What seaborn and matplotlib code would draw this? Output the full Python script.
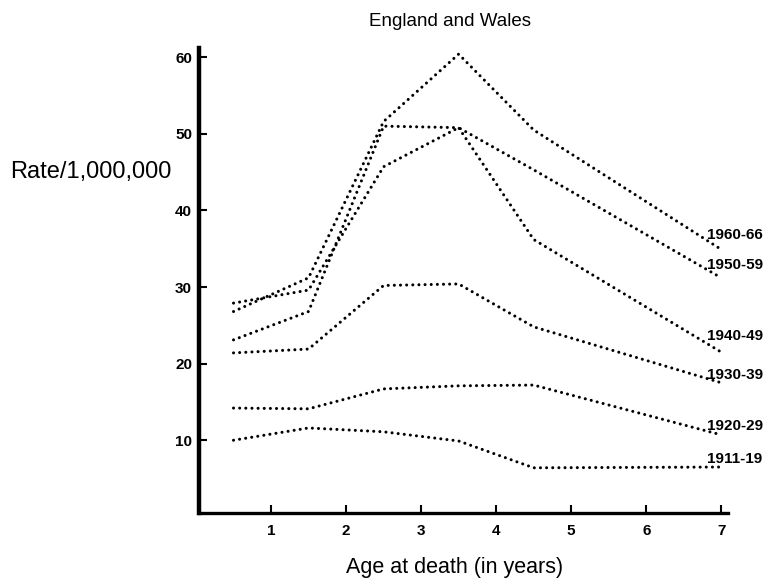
import matplotlib
matplotlib.use("Agg")
import matplotlib.pyplot as plt
import seaborn as sns
import pandas as pd

# Age at death (mid-points of the age groups, in years)
ages = [0.5, 1.5, 2.5, 3.5, 4.5, 7.0]

# Death rate per 1,000,000 for each period
periods = ["1911-19", "1920-29", "1930-39", "1940-49", "1950-59", "1960-66"]
rate_1911_19 = [10.0, 11.6, 11.1, 9.9, 6.4, 6.5]
rate_1920_29 = [14.2, 14.1, 16.7, 17.1, 17.2, 10.7]
rate_1930_39 = [21.4, 21.9, 30.2, 30.4, 24.8, 17.5]
rate_1940_49 = [23.1, 26.8, 51.0, 50.8, 36.2, 21.5]
rate_1950_59 = [27.9, 29.6, 45.7, 50.8, 45.3, 31.2]
rate_1960_66 = [26.8, 31.2, 51.6, 60.4, 50.5, 34.9]

# Label anchor heights at the right-hand end of each line
label_y = [7.5, 11.8, 18.5, 23.6, 32.9, 36.8]

x_ticks = [1, 2, 3, 4, 5, 6, 7]
y_ticks = [10, 20, 30, 40, 50, 60]

series = [rate_1911_19, rate_1920_29, rate_1930_39,
          rate_1940_49, rate_1950_59, rate_1960_66]
df = pd.DataFrame(
    [(a, r, p) for p, vals in zip(periods, series) for a, r in zip(ages, vals)],
    columns=["age", "rate", "period"],
)

sns.set_theme(style="ticks")
plt.rcParams["font.family"] = ["Liberation Sans", "DejaVu Sans"]
plt.rcParams["text.color"] = "black"
plt.rcParams["xtick.color"] = "black"
plt.rcParams["ytick.color"] = "black"

fig = plt.figure(figsize=(7.7, 5.87), dpi=100)
ax = fig.add_axes([199 / 770, 1 - 513 / 587, (728 - 199) / 770, (513 - 48) / 587])

sns.lineplot(
    data=df, x="age", y="rate", hue="period", style="period",
    palette={p: "black" for p in periods},
    dashes={p: (0.01, 2.0) for p in periods},
    linewidth=2.2, dash_capstyle="round", legend=False, ax=ax,
)
for line in ax.get_lines():
    line.set_dash_capstyle("round")

ax.set_xlim(0.04, 7.09)
ax.set_ylim(0.5, 61.2)
ax.set_xticks(x_ticks)
ax.set_yticks(y_ticks)
ax.set_xticklabels([str(t) for t in x_ticks], fontweight="bold", fontsize=11)
ax.set_yticklabels([str(t) for t in y_ticks], fontweight="bold", fontsize=11)
ax.tick_params(axis="both", direction="in", length=6, width=1.5, colors="black")
ax.tick_params(axis="x", pad=8)
ax.tick_params(axis="y", pad=5)
ax.set_xlabel("")
ax.set_ylabel("")

for side in ("top", "right"):
    ax.spines[side].set_visible(False)
ax.spines["left"].set_linewidth(3.2)
ax.spines["bottom"].set_linewidth(2.4)
ax.spines["left"].set_color("black")
ax.spines["bottom"].set_color("black")

for p, y in zip(periods, label_y):
    ax.text(6.81, y, p, fontsize=11, fontweight="bold", ha="left", va="center",
            color="black")

fig.text(450 / 770, 1 - 22 / 587, "England and Wales", fontsize=13.5,
         ha="center", va="center", color="black")
fig.text(10 / 770, 1 - 172 / 587, "Rate/1,000,000", fontsize=17,
         ha="left", va="center", color="black")
fig.text(455 / 770, 1 - 568 / 587, "Age at death (in years)", fontsize=15.5,
         ha="center", va="center", color="black")

fig.savefig("out.png", dpi=100, facecolor="white")
